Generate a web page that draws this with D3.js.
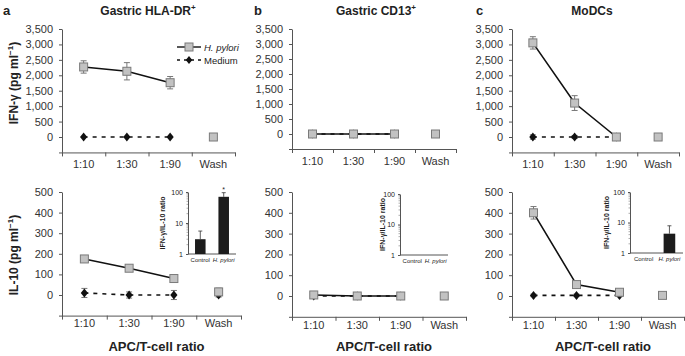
<!DOCTYPE html>
<html>
<head>
<meta charset="utf-8">
<script src="https://cdn.jsdelivr.net/npm/d3@7"></script>
<style>
  body { margin: 0; background: #fff; }
  text { font-family: "Liberation Sans", Arial, sans-serif; fill: #222; }
  .axis path, .axis line { stroke: #555; }
  .axis text { font-size: 11px; fill: #333; }
</style>
</head>
<body>
<svg id="chart" width="685" height="356"></svg>
<script>
var categories = ["1:10", "1:30", "1:90", "Wash"];
var panelLetters = ["a", "b", "c"];
var panelTitles = ["Gastric HLA-DR", "Gastric CD13", "MoDCs"];
var titleSup = ["+", "+", ""];
var ifnTicks = [-500, 0, 500, 1000, 1500, 2000, 2500, 3000, 3500];
var il10Ticks = [-100, 0, 100, 200, 300, 400, 500];
var ratioTicks = [1, 10, 100];
var ratioGroups = ["Control", "H. pylori"];

// IFN-gamma (pg/ml); 4th value = wash
var ifnHp = [[2270, 2130, 1760, 0], [0, 0, 0, 0], [3050, 1100, 0, 0]];
var ifnHpErr = [[200, 280, 200, 0], [0, 0, 0, 0], [200, 240, 0, 0]];
var ifnMed = [[0, 0, 0], [0, 0, 0], [0, 0, 0]];
var ifnMedErr = [[0, 0, 0], [0, 0, 0], [70, 50, 0]];

// IL-10 (pg/ml)
var il10Hp = [[175, 130, 80, 15], [5, 0, 0, 0], [400, 55, 18, 3]];
var il10HpErr = [[12, 8, 10, 18], [6, 4, 4, 10], [30, 6, 4, 0]];
var il10Med = [[10, 0, 0, 0], [0, 0, 0], [3, 3, 3]];
var il10MedErr = [[22, 15, 22, 10], [0, 0, 0], [6, 6, 6]];

// inset: IFN-gamma / IL-10 ratio
var ratioControl = [3, null, null];
var ratioControlErr = [2.5, null, null];
var ratioHp = [70, null, 4.3];
var ratioHpErr = [25, null, 3.5];
var ratioStar = ["*", "", ""];

function init() {
    var svg = d3.select("#chart");

    //layout of the three columns
    var cols = [
        { x0: 62, topX1: 235, botX1: 241, top0: 137, topMax: 29, bot0: 295, botMax: 192,
          letterX: 3, titleX: 148, inset: { x0: 188, x1: 236, y1: 254, y100: 192, labX: 165 } },
        { x0: 292, topX1: 456, botX1: 466, top0: 134, topMax: 29, bot0: 296, botMax: 192,
          letterX: 254, titleX: 376, inset: { x0: 400, x1: 448, y1: 255, y100: 194, labX: 385 } },
        { x0: 512, topX1: 679, botX1: 684, top0: 137, topMax: 29, bot0: 296, botMax: 192,
          letterX: 476, titleX: 592, inset: { x0: 630, x1: 683, y1: 253, y100: 192, labX: 609 } }
    ];

    var diamond = "M0,-4.5L3.6,0L0,4.5L-3.6,0Z";

    function drawPlot(c, x1, y0, yMax, maxVal, ticks, labelGap, hp, hpErr, med, medErr) {
        var step = (y0 - yMax) / (ticks.length - 2);
        var y = d3.scaleLinear()
                .domain([ticks[0], maxVal])
                .range([y0 + step, yMax]);
        var x = d3.scaleBand()
                .domain(categories)
                .range([c.x0, x1]);
        var xTicks = d3.scaleLinear().domain([0, categories.length]).range([c.x0, x1]);

        svg.append("g")
            .attr("class", "axis")
            .attr("transform", "translate(" + c.x0 + ",0)")
            .call(d3.axisLeft(y).tickValues(ticks).tickSize(3).tickSizeOuter(0).tickPadding(6)
                .tickFormat(function(d) { return d < 0 ? "" : d3.format(",")(d); }));

        var bottom = y(ticks[0]);
        svg.append("g")
            .attr("class", "axis")
            .attr("transform", "translate(0," + bottom + ")")
            .call(d3.axisBottom(xTicks).ticks(categories.length).tickSize(4).tickSizeOuter(0)
                .tickFormat(""));
        svg.append("g")
            .attr("class", "axis")
            .attr("transform", "translate(0," + bottom + ")")
            .call(d3.axisBottom(x).tickSize(0).tickPadding(labelGap))
            .call(function(g) { g.select(".domain").remove(); });

        function pts(vals, errs) {
            return vals.map(function(v, i) { return { c: categories[i], v: v, e: errs[i] }; });
        }

        var line = d3.line()
                .x(function(d) { return x(d.c) + x.bandwidth() / 2; })
                .y(function(d) { return y(d.v); });

        function errorBars(data) {
            var g = svg.append("g").attr("stroke", "#777").attr("stroke-width", 1);
            data.filter(function(d) { return d.e > 0; }).forEach(function(d) {
                var cx = x(d.c) + x.bandwidth() / 2;
                g.append("line").attr("x1", cx).attr("x2", cx)
                    .attr("y1", y(d.v - d.e)).attr("y2", y(d.v + d.e));
                [d.v - d.e, d.v + d.e].forEach(function(e) {
                    g.append("line").attr("x1", cx - 3).attr("x2", cx + 3)
                        .attr("y1", y(e)).attr("y2", y(e));
                });
            });
        }

        //Medium (dashed, diamonds)
        var medPts = pts(med, medErr);
        svg.append("path")
            .datum(medPts.slice(0, 3))
            .attr("d", line)
            .attr("fill", "none").attr("stroke", "#111")
            .attr("stroke-width", 1.6).attr("stroke-dasharray", "4,5");
        errorBars(medPts);
        svg.append("g").selectAll("path")
            .data(medPts).enter().append("path")
            .attr("d", diamond).attr("fill", "#111")
            .attr("transform", function(d) {
                return "translate(" + (x(d.c) + x.bandwidth() / 2) + "," + y(d.v) + ")";
            });

        //H. pylori (solid, squares)
        var hpPts = pts(hp, hpErr);
        svg.append("path")
            .datum(hpPts.slice(0, 3))
            .attr("d", line)
            .attr("fill", "none").attr("stroke", "#111").attr("stroke-width", 1.6);
        errorBars(hpPts);
        svg.append("g").selectAll("rect")
            .data(hpPts).enter().append("rect")
            .attr("x", function(d) { return x(d.c) + x.bandwidth() / 2 - 4; })
            .attr("y", function(d) { return y(d.v) - 4; })
            .attr("width", 8).attr("height", 8)
            .attr("fill", "#c2c2c2").attr("stroke", "#7a7a7a").attr("stroke-width", 1);
    }

    function drawInset(c, i) {
        var s = c.inset;
        var y = d3.scaleLog().domain([1, 100]).range([s.y1, s.y100]);
        var x = d3.scaleBand().domain(ratioGroups).range([s.x0, s.x1])
                .paddingInner(0.55).paddingOuter(0.3);

        var ya = svg.append("g")
            .attr("transform", "translate(" + s.x0 + ",0)")
            .call(d3.axisLeft(y).tickValues(ratioTicks).tickFormat(d3.format("d"))
                .tickSize(2).tickSizeOuter(0).tickPadding(3));
        ya.selectAll("path, line").attr("stroke", "#555");
        ya.selectAll("text").style("font-size", "7px");
        //minor log ticks
        [2, 3, 4, 5, 6, 7, 8, 9, 20, 30, 40, 50, 60, 70, 80, 90].forEach(function(m) {
            svg.append("line")
                .attr("x1", s.x0 - 1.5).attr("x2", s.x0)
                .attr("y1", y(m)).attr("y2", y(m))
                .attr("stroke", "#777").attr("stroke-width", 0.6);
        });

        svg.append("line")
            .attr("x1", s.x0).attr("x2", s.x1)
            .attr("y1", s.y1).attr("y2", s.y1)
            .attr("stroke", "#555");
        ratioGroups.forEach(function(gname) {
            svg.append("text")
                .attr("x", x(gname) + x.bandwidth() / 2)
                .attr("y", s.y1 + 8)
                .attr("text-anchor", "middle")
                .style("font-size", "6px")
                .style("font-style", gname === "Control" ? "normal" : "italic")
                .text(gname);
        });

        var bars = [
            { g: "Control", v: ratioControl[i], e: ratioControlErr[i], star: "" },
            { g: "H. pylori", v: ratioHp[i], e: ratioHpErr[i], star: ratioStar[i] }
        ].filter(function(d) { return d.v !== null; });

        bars.forEach(function(d) {
            var cx = x(d.g) + x.bandwidth() / 2;
            svg.append("line")
                .attr("x1", cx).attr("x2", cx)
                .attr("y1", y(d.v)).attr("y2", y(d.v + d.e))
                .attr("stroke", "#333").attr("stroke-width", 0.8);
            svg.append("line")
                .attr("x1", cx - 2).attr("x2", cx + 2)
                .attr("y1", y(d.v + d.e)).attr("y2", y(d.v + d.e))
                .attr("stroke", "#333").attr("stroke-width", 0.8);
            svg.append("rect")
                .attr("x", x(d.g)).attr("y", y(d.v))
                .attr("width", x.bandwidth()).attr("height", s.y1 - y(d.v))
                .attr("fill", "#1c1c1c");
            if (d.star) {
                svg.append("text")
                    .attr("x", cx).attr("y", y(d.v + d.e) - 1)
                    .attr("text-anchor", "middle")
                    .style("font-size", "7px")
                    .text(d.star);
            }
        });

        svg.append("text")
            .attr("transform", "translate(" + s.labX + "," + ((s.y1 + s.y100) / 2) + ") rotate(-90)")
            .attr("text-anchor", "middle")
            .style("font-size", "7px").style("font-weight", "bold")
            .text("IFN-\u03b3/IL-10 ratio");
    }

    cols.forEach(function(c, i) {
        //panel letter and title
        svg.append("text")
            .attr("x", c.letterX).attr("y", 15)
            .style("font-size", "13px").style("font-weight", "bold")
            .text(panelLetters[i]);
        var t = svg.append("text")
            .attr("x", c.titleX).attr("y", 15)
            .attr("text-anchor", "middle")
            .style("font-size", "12px").style("font-weight", "bold");
        t.append("tspan").text(panelTitles[i]);
        if (titleSup[i]) {
            t.append("tspan").attr("dy", -5).style("font-size", "8px").text(titleSup[i]);
        }

        drawPlot(c, c.topX1, c.top0, c.topMax, 3500, ifnTicks, 8,
                 ifnHp[i], ifnHpErr[i], ifnMed[i], ifnMedErr[i]);
        drawPlot(c, c.botX1, c.bot0, c.botMax, 500, il10Ticks, 4,
                 il10Hp[i], il10HpErr[i], il10Med[i], il10MedErr[i]);
        drawInset(c, i);

        svg.append("text")
            .attr("x", (c.x0 + c.botX1) / 2 + 5).attr("y", 351)
            .attr("text-anchor", "middle")
            .style("font-size", "13px").style("font-weight", "bold")
            .text("APC/T-cell ratio");
    });

    //y axis titles
    function yTitle(cy, name) {
        var t = svg.append("text")
            .attr("transform", "translate(18," + cy + ") rotate(-90)")
            .attr("text-anchor", "middle")
            .style("font-size", "12px").style("font-weight", "bold");
        t.append("tspan").text(name + " (pg ml");
        t.append("tspan").attr("dy", -5).style("font-size", "8px").text("\u22121");
        t.append("tspan").attr("dy", 5).text(")");
    }
    yTitle(83, "IFN-\u03b3");
    yTitle(255, "IL-10");

    //legend
    var lg = svg.append("g");
    [{ name: "H. pylori", y: 47, dash: null, italic: true },
     { name: "Medium", y: 60, dash: "3,4", italic: false }].forEach(function(d) {
        lg.append("line")
            .attr("x1", 177).attr("x2", 201)
            .attr("y1", d.y).attr("y2", d.y)
            .attr("stroke", "#111").attr("stroke-width", 1.4)
            .attr("stroke-dasharray", d.dash);
        if (d.dash) {
            lg.append("path").attr("d", diamond).attr("fill", "#111")
                .attr("transform", "translate(189," + d.y + ") scale(0.9)");
        } else {
            lg.append("rect").attr("x", 185).attr("y", d.y - 4)
                .attr("width", 8).attr("height", 8)
                .attr("fill", "#c2c2c2").attr("stroke", "#7a7a7a");
        }
        lg.append("text")
            .attr("x", 204).attr("y", d.y + 3.5)
            .style("font-size", "9.5px")
            .style("font-style", d.italic ? "italic" : "normal")
            .text(d.name);
    });
}
window.onload = init;
</script>
</body>
</html>
